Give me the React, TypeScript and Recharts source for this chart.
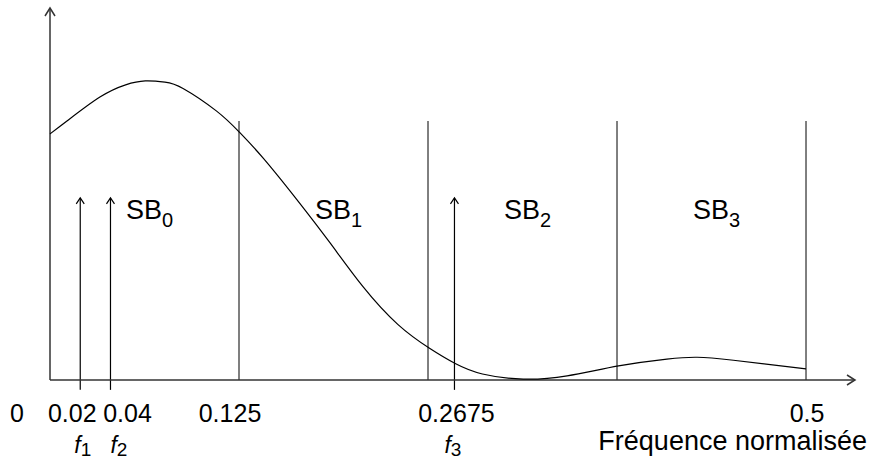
import React from 'react';
import { ComposedChart, Line, XAxis, YAxis, ReferenceLine, ReferenceDot, Label } from 'recharts';

// normalized frequency response
const FREQ = [0, 0.011, 0.033, 0.05, 0.063, 0.076, 0.088, 0.11, 0.125, 0.141, 0.163, 0.185, 0.207, 0.23, 0.251, 0.268, 0.286, 0.313, 0.342, 0.376, 0.408, 0.428, 0.452, 0.5];
const GAIN = [0.823, 0.865, 0.946, 0.987, 1.0, 0.996, 0.975, 0.9, 0.83, 0.742, 0.605, 0.46, 0.312, 0.186, 0.106, 0.055, 0.02, 0.003, 0.014, 0.047, 0.07, 0.076, 0.066, 0.037];

// sub-band edges and names
const BAND_EDGES = [0, 0.125, 0.25, 0.375, 0.5];
const BAND_NAMES = ['0', '1', '2', '3'];

// pure tones f1, f2, f3
const TONES = [0.02, 0.04, 0.2675];
const TONE_NAMES = ['1', '2', '3'];

const TICKS = [0, 0.02, 0.04, 0.125, 0.2675, 0.5];
const TICK_LABELS = ['0', '0.02', '0.04', '0.125', '0.2675', '0.5'];

const X_MAX = 0.5324; // room for the axis arrow past 0.5
const Y_MAX = 1.244;
const BAND_TOP = 0.866;
const TONE_TOP = 0.609;
const TONE_BOTTOM = -0.033;
const SB_LEVEL = 0.54;

const FONT = '"Liberation Sans", Arial, sans-serif';
const TICK_NUDGE = [-33, -8, 17, -9, 2, 1];
const F_NUDGE = [-6, 0, -10];

const data = FREQ.map((f, i) => ({ f, gain: GAIN[i] }));

const arrowShape = (len: number, half: number, color: string, width: number) => (p: any) => {
  const { x1, y1, x2, y2 } = p;
  const dx = x2 - x1;
  const dy = y2 - y1;
  const d = Math.hypot(dx, dy) || 1;
  const ux = dx / d;
  const uy = dy / d;
  const bx = x2 - ux * len;
  const by = y2 - uy * len;
  return (
    <g>
      <line x1={x1} y1={y1} x2={x2} y2={y2} stroke={color} strokeWidth={width} />
      <polyline
        points={`${bx - uy * half},${by + ux * half} ${x2},${y2} ${bx + uy * half},${by - ux * half}`}
        fill="none"
        stroke={color}
        strokeWidth={width}
      />
    </g>
  );
};

const axisArrow = arrowShape(8, 5, '#333', 1.5);
const toneArrow = arrowShape(6, 4, '#000', 1.2);

const Tick = ({ x, y, payload }: any) => {
  const i = TICKS.indexOf(payload.value);
  const t = TONES.indexOf(payload.value);
  return (
    <g fontFamily={FONT} fill="#000">
      <text x={x + (TICK_NUDGE[i] || 0)} y={y + 42} textAnchor="middle" fontSize={25}>
        {TICK_LABELS[i]}
      </text>
      {t >= 0 && (
        <text x={x + F_NUDGE[t]} y={y + 73} fontSize={23}>
          <tspan fontStyle="italic">f</tspan>
          <tspan fontSize={19} dy={3}>{TONE_NAMES[t]}</tspan>
        </text>
      )}
    </g>
  );
};

const Title = ({ viewBox }: any) => (
  <text
    x={viewBox.x + viewBox.width + 12}
    y={viewBox.y + 70}
    textAnchor="end"
    fontSize={27}
    fontFamily={FONT}
    fill="#000"
  >
    Fréquence normalisée
  </text>
);

const bandLabel = (name: string) => (p: any) => (
  <text x={p.cx + 5} y={p.cy} textAnchor="middle" fontSize={27} fontFamily={FONT} fill="#000">
    <tspan>SB</tspan>
    <tspan fontSize={20} dy={8}>{name}</tspan>
  </text>
);

export default function App() {
  return (
    <div style={{ position: 'absolute', left: 0, top: 0, background: '#fff' }}>
      <ComposedChart width={871} height={464} data={data} margin={{ top: 8, right: 16, bottom: 0, left: 50 }}>
        <XAxis
          dataKey="f"
          type="number"
          domain={[0, X_MAX]}
          ticks={TICKS}
          interval={0}
          axisLine={false}
          tickLine={false}
          tickSize={0}
          tickMargin={0}
          height={84}
          tick={<Tick />}
        >
          <Label content={<Title />} />
        </XAxis>
        <YAxis hide type="number" domain={[0, Y_MAX]} allowDataOverflow />

        {BAND_EDGES.slice(1).map((e) => (
          <ReferenceLine
            key={`b${e}`}
            segment={[{ x: e, y: 0 }, { x: e, y: BAND_TOP }]}
            stroke="#555"
            strokeWidth={1.5}
            ifOverflow="visible"
          />
        ))}

        {TONES.map((t) => (
          <ReferenceLine
            key={`t${t}`}
            segment={[{ x: t, y: TONE_BOTTOM }, { x: t, y: TONE_TOP }]}
            ifOverflow="visible"
            shape={toneArrow}
          />
        ))}

        <ReferenceLine segment={[{ x: 0, y: 0 }, { x: X_MAX, y: 0 }]} ifOverflow="visible" shape={axisArrow} />
        <ReferenceLine segment={[{ x: 0, y: 0 }, { x: 0, y: Y_MAX }]} ifOverflow="visible" shape={axisArrow} />

        {BAND_NAMES.map((n, i) => (
          <ReferenceDot
            key={`sb${n}`}
            x={(BAND_EDGES[i] + BAND_EDGES[i + 1]) / 2}
            y={SB_LEVEL}
            ifOverflow="visible"
            shape={bandLabel(n)}
          />
        ))}

        <Line
          dataKey="gain"
          type="natural"
          stroke="#000"
          strokeWidth={1.2}
          dot={false}
          activeDot={false}
          isAnimationActive={false}
        />
      </ComposedChart>
    </div>
  );
}
